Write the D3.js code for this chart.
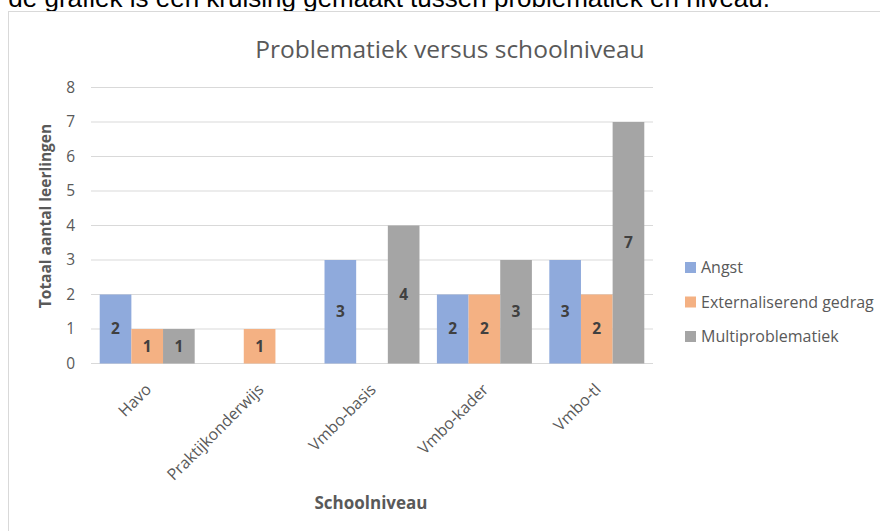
<!DOCTYPE html>
<html>
<head>
<meta charset="utf-8">
<script src="https://cdn.jsdelivr.net/npm/d3@7.9.0/dist/d3.min.js"></script>
<style>
  body { margin: 0; background: #fff; }
  svg { display: block; }
  text { font-family: "Open Sans", Lato, sans-serif; }
</style>
</head>
<body>
<svg id="chart" width="880" height="531"></svg>
<script>
const levels = ['Havo', 'Praktijkonderwijs', 'Vmbo-basis', 'Vmbo-kader', 'Vmbo-tl'];
const seriesNames = ['Angst', 'Externaliserend gedrag', 'Multiproblematiek'];
const angst = [2, 0, 3, 2, 3];
const externaliserend = [1, 1, 0, 2, 2];
const multi = [1, 0, 4, 3, 7];
const yTicks = [0, 1, 2, 3, 4, 5, 6, 7, 8];
const seriesColors = ['#8faadc', '#f4b183', '#a5a5a5'];

const series = [angst, externaliserend, multi];
const rows = levels.map((lvl, i) => ({
  level: lvl,
  values: seriesNames.map((s, j) => ({ key: s, value: series[j][i] }))
}));

const svg = d3.select('#chart');

// text from the page above the chart, cut off at the top
svg.append('text')
  .attr('x', 770).attr('y', 7)
  .attr('text-anchor', 'end')
  .style('font-family', '"Liberation Sans", Arial, sans-serif')
  .style('font-size', '26px')
  .attr('fill', '#000')
  .text('de grafiek is een kruising gemaakt tussen problematiek en niveau.');

// chart frame
svg.append('rect')
  .attr('x', 8.5).attr('y', 11.5)
  .attr('width', 900).attr('height', 600)
  .attr('fill', '#fff')
  .attr('stroke', '#d9d9d9');

const margin = { left: 91, right: 653, top: 87.5, bottom: 363.5 };

let x0 = d3.scaleBand()
  .domain(levels)
  .range([margin.left, margin.right])
  .paddingInner(0.155)
  .paddingOuter(0.0775);

let x1 = d3.scaleBand()
  .domain(seriesNames)
  .range([0, x0.bandwidth()]);

let y = d3.scaleLinear().domain([0, 8]).range([margin.bottom, margin.top]);

// gridlines
svg.append('g')
  .selectAll('line')
  .data(yTicks)
  .join('line')
  .attr('x1', margin.left).attr('x2', margin.right)
  .attr('y1', (d) => y(d)).attr('y2', (d) => y(d))
  .attr('stroke', '#d9d9d9')
  .attr('stroke-width', 1);

// y tick labels
svg.append('g')
  .selectAll('text')
  .data(yTicks)
  .join('text')
  .attr('x', 75).attr('y', (d) => y(d))
  .attr('dy', '0.35em')
  .attr('text-anchor', 'end')
  .attr('fill', '#595959')
  .style('font-size', '15.5px')
  .text((d) => d);

// bars
const groups = svg.append('g')
  .selectAll('g')
  .data(rows)
  .join('g')
  .attr('transform', (d) => `translate(${x0(d.level)},0)`);

groups.selectAll('rect')
  .data((d) => d.values.filter((v) => v.value > 0))
  .join('rect')
  .attr('x', (d) => x1(d.key))
  .attr('width', x1.bandwidth())
  .attr('y', (d) => y(d.value))
  .attr('height', (d) => y(0) - y(d.value))
  .attr('fill', (d) => seriesColors[seriesNames.indexOf(d.key)]);

// data labels
groups.selectAll('text')
  .data((d) => d.values.filter((v) => v.value > 0))
  .join('text')
  .attr('x', (d) => x1(d.key) + x1.bandwidth() / 2)
  .attr('y', (d) => (y(d.value) + y(0)) / 2)
  .attr('dy', '0.35em')
  .attr('text-anchor', 'middle')
  .attr('fill', '#404040')
  .style('font-size', '15.5px')
  .style('font-weight', 'bold')
  .text((d) => d.value);

// x tick labels, rotated
svg.append('g')
  .selectAll('text')
  .data(levels)
  .join('text')
  .attr('transform', (d) => `translate(${x0(d) + x0.bandwidth() / 2 + 5},${margin.bottom + 27}) rotate(-45)`)
  .attr('text-anchor', 'end')
  .attr('fill', '#595959')
  .style('font-size', '16px')
  .text((d) => d);

// title
svg.append('text')
  .attr('x', 450).attr('y', 58)
  .attr('text-anchor', 'middle')
  .attr('fill', '#595959')
  .style('font-size', '24.5px')
  .text('Problematiek versus schoolniveau');

// axis titles
svg.append('text')
  .attr('transform', 'translate(51,216) rotate(-90)')
  .attr('text-anchor', 'middle')
  .attr('fill', '#595959')
  .style('font-size', '15.5px')
  .style('font-weight', 'bold')
  .text('Totaal aantal leerlingen');

svg.append('text')
  .attr('x', 371).attr('y', 509)
  .attr('text-anchor', 'middle')
  .attr('fill', '#595959')
  .style('font-size', '17px')
  .style('font-weight', 'bold')
  .text('Schoolniveau');

// legend
const legend = svg.append('g')
  .selectAll('g')
  .data(seriesNames)
  .join('g')
  .attr('transform', (d, i) => `translate(685,${267.5 + i * 34.5})`);

legend.append('rect')
  .attr('x', 0).attr('y', -5.5)
  .attr('width', 11).attr('height', 11)
  .attr('fill', (d, i) => seriesColors[i]);

legend.append('text')
  .attr('x', 16).attr('y', 0)
  .attr('dy', '0.35em')
  .attr('fill', '#595959')
  .style('font-size', '16px')
  .text((d) => d);
</script>
</body>
</html>
